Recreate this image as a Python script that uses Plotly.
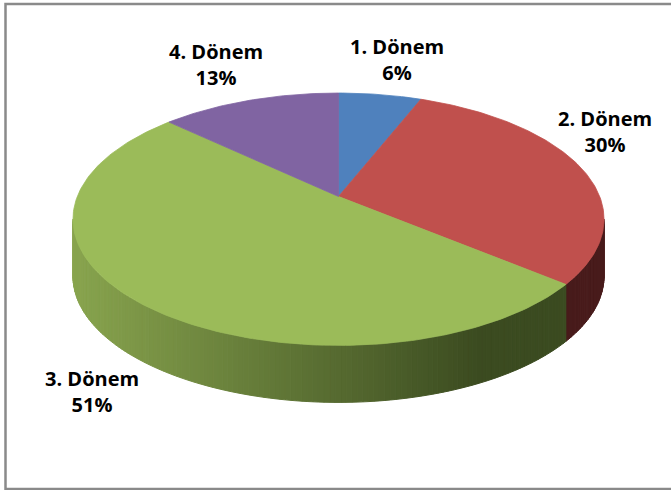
import math
import plotly.graph_objects as go

# ---- data ----
categories = ["1. Dönem", "2. Dönem", "3. Dönem", "4. Dönem"]
values = [6, 30, 51, 13]

# ---- style ----
top_colors = ["#4F81BD", "#C0504D", "#9BBB59", "#8064A2"]
side_light = ["#3d5f8c", "#5c2424", "#88a44e", "#5d4878"]
side_dark = ["#2a4266", "#481b1b", "#3b4b20", "#43335a"]
label_pos = [(397, 59), (605, 131), (92, 391), (216, 64)]

W, H = 671, 490
cx, cy = 338.5, 196.5
k = 0.18
S = 261.2
S2 = 122.1
depth = 57


def proj(theta_deg, dz=0.0):
    th = math.radians(theta_deg)
    u, v = math.sin(th), math.cos(th)
    w = 1 + k * v
    return cx + S * u / w, cy - S2 * v / w + dz


def hex2rgb(h):
    h = h.lstrip("#")
    return tuple(int(h[i:i + 2], 16) for i in (0, 2, 4))


def mix(c1, c2, t):
    a, b = hex2rgb(c1), hex2rgb(c2)
    t = max(0.0, min(1.0, t))
    return "rgb(%d,%d,%d)" % tuple(round(a[i] + (b[i] - a[i]) * t) for i in range(3))


total = sum(values)
bounds = []
acc = 0
for v in values:
    a0 = acc / total * 360
    acc += v
    bounds.append((a0, acc / total * 360))

vis0 = 90 + math.degrees(math.asin(k))
vis1 = 360 - vis0

fig = go.Figure()

# side walls (gradient strips)
xmin, xmax = cx - S / math.sqrt(1 - k * k), 480
for i, (a0, a1) in enumerate(bounds):
    s0, s1 = max(a0, vis0), min(a1, vis1)
    if s1 <= s0:
        continue
    n = max(2, int((s1 - s0) / 1.0))
    for j in range(n):
        t0 = s0 + (s1 - s0) * j / n
        t1 = s0 + (s1 - s0) * (j + 1) / n
        p0, p1 = proj(t0), proj(t1)
        q0, q1 = proj(t0, depth), proj(t1, depth)
        xm = (p0[0] + p1[0]) / 2
        col = mix(side_light[i], side_dark[i], (xm - xmin) / (xmax - xmin))
        fig.add_trace(go.Scatter(
            x=[p0[0], p1[0], q1[0], q0[0], p0[0]],
            y=[p0[1], p1[1], q1[1], q0[1], p0[1]],
            mode="lines", fill="toself", fillcolor=col,
            line=dict(color=col, width=1),
            hoverinfo="skip", showlegend=False))

# top faces
for i, (a0, a1) in enumerate(bounds):
    n = max(4, int((a1 - a0) / 1.0))
    xs, ys = [cx], [cy]
    for j in range(n + 1):
        px, py = proj(a0 + (a1 - a0) * j / n)
        xs.append(px)
        ys.append(py)
    xs.append(cx)
    ys.append(cy)
    fig.add_trace(go.Scatter(
        x=xs, y=ys, mode="lines", fill="toself", fillcolor=top_colors[i],
        line=dict(color=top_colors[i], width=0.8),
        hoverinfo="skip", showlegend=False, name=categories[i]))

font = dict(family="Open Sans", size=20, color="#000000")
annotations = []
for i, cat in enumerate(categories):
    lx, ly = label_pos[i]
    pct = "%d%%" % round(values[i] / total * 100)
    annotations.append(dict(x=lx, y=ly, text="<b>%s</b><br><b>%s</b>" % (cat, pct),
                            showarrow=False, xref="x", yref="y", font=font,
                            xanchor="center", yanchor="middle", align="center"))

fig.update_layout(
    width=W, height=H,
    margin=dict(l=0, r=0, t=0, b=0),
    paper_bgcolor="white", plot_bgcolor="white",
    xaxis=dict(range=[0, W], visible=False, fixedrange=True),
    yaxis=dict(range=[H, 0], visible=False, fixedrange=True),
    annotations=annotations,
    shapes=[dict(type="rect", xref="x", yref="y", x0=5.5, y0=4, x1=676, y1=489,
                 line=dict(color="#8a8a8a", width=2.5), layer="below")],
)

fig.write_html("out.html", config={"displayModeBar": False},
               post_script="document.body.style.margin='0';document.body.style.overflow='hidden';")
